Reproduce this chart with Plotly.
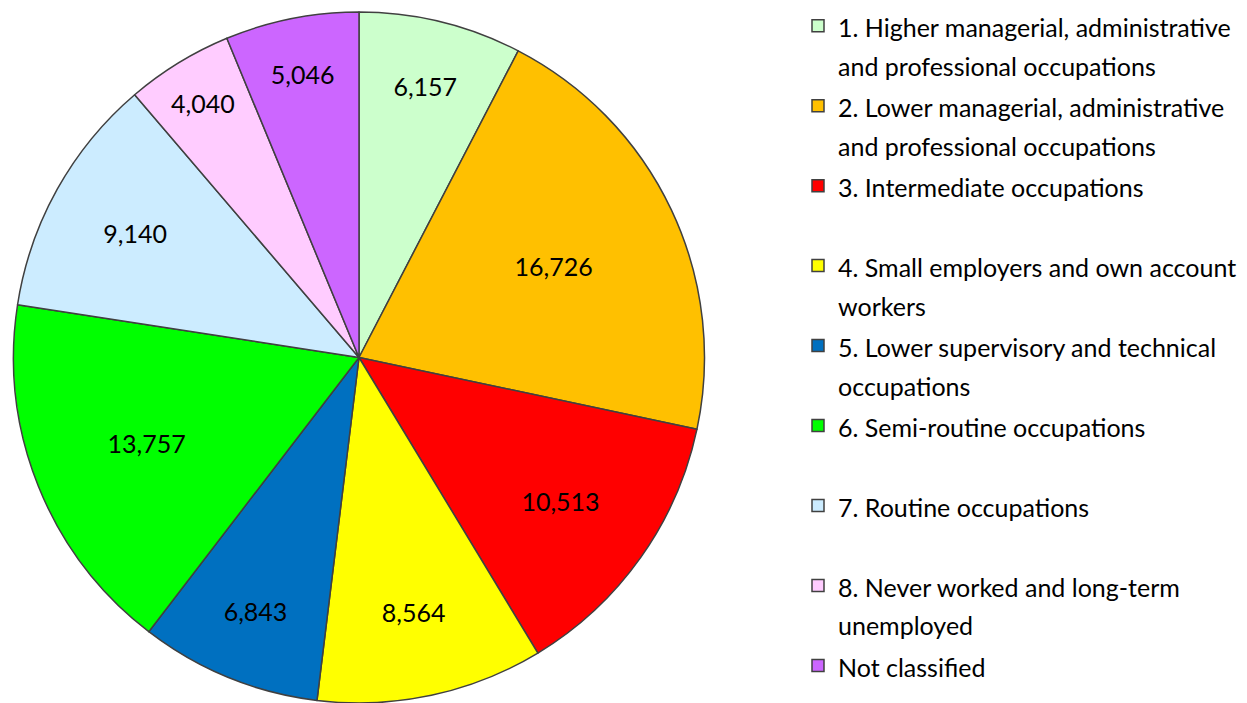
import plotly.graph_objects as go

categories = [
    ["1. Higher managerial, administrative", "and professional occupations"],
    ["2. Lower managerial, administrative", "and professional occupations"],
    ["3. Intermediate occupations"],
    ["4. Small employers and own account", "workers"],
    ["5. Lower supervisory and technical", "occupations"],
    ["6. Semi-routine occupations"],
    ["7. Routine occupations"],
    ["8. Never worked and long-term", "unemployed"],
    ["Not classified"],
]
counts = [6157, 16726, 10513, 8564, 6843, 13757, 9140, 4040, 5046]
colors = [
    "#CCFFCC", "#FFC000", "#FF0000", "#FFFF00", "#0070C0",
    "#00FF00", "#CCECFF", "#FFCCFF", "#CC66FF",
]

# legend line height comes from the legend font size, so the base size is
# large (even pitch between entries) and the visible text is set smaller
labels = []
for i, lines in enumerate(categories):
    txt = "<br>".join('<span style="font-size:25px">%s</span>' % s for s in lines)
    if len(lines) == 1 and i < len(categories) - 1:
        txt += "<br>\u00a0"
    labels.append(txt)

W, H = 1247, 703
top = 12
r = (H - top) / 2
cx = 359

fig = go.Figure(
    go.Pie(
        labels=labels,
        values=counts,
        sort=False,
        direction="clockwise",
        rotation=0,
        marker=dict(colors=colors, line=dict(color="#404040", width=1.5)),
        texttemplate="%{value:,}",
        textposition="inside",
        insidetextorientation="horizontal",
        textfont=dict(color="black", size=25),
        domain=dict(x=[(cx - r) / W, (cx + r) / W], y=[0, 1 - top / H]),
        hoverinfo="label+value",
    )
)

fig.update_layout(
    width=W,
    height=H,
    margin=dict(l=0, r=0, t=0, b=0),
    paper_bgcolor="white",
    font=dict(family="Lato", color="black"),
    legend=dict(
        x=798 / W,
        y=1,
        xanchor="left",
        yanchor="top",
        valign="top",
        font=dict(size=29.6, color="black"),
        traceorder="normal",
    ),
)

# drop the browser's default 8px body margin so the figure fills the window
fig.write_html(
    "out.html",
    config={"displayModeBar": False},
    post_script="document.body.style.margin = '0';",
)
